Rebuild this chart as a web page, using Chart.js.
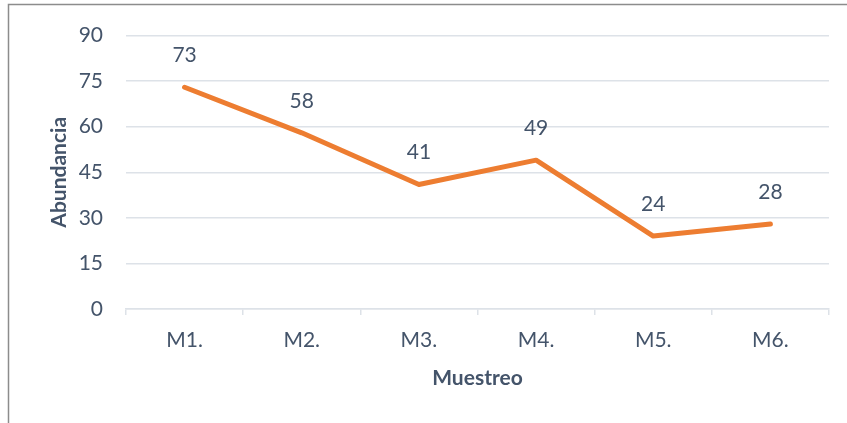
<!DOCTYPE html>
<html>
<head>
<meta charset="utf-8">
<script src="https://cdn.jsdelivr.net/npm/chart.js@4"></script>
<style>
  html, body { margin: 0; padding: 0; background: #fff; }
  #wrap { width: 847px; height: 423px; position: relative; }
</style>
</head>
<body>
<div id="wrap"><canvas id="myChart" width="847" height="423"></canvas></div>
<script>
// sampling points and abundance per point
const categories = ['M1.', 'M2.', 'M3.', 'M4.', 'M5.', 'M6.'];
const abundance = [73, 58, 41, 49, 24, 28];
const yTicks = [0, 15, 30, 45, 60, 75, 90];

const textColor = '#44546A';
const gridColor = '#dde2e8';
const fontFamily = 'Lato, "Open Sans", sans-serif';
const fontSize = 21;

// white background plus the frame on the left and top
const framePlugin = {
  id: 'frame',
  beforeDraw(chart) {
    const ctx = chart.ctx;
    ctx.save();
    ctx.fillStyle = '#fff';
    ctx.fillRect(0, 0, chart.width, chart.height);
    ctx.strokeStyle = '#8c8c8c';
    ctx.lineWidth = 1.5;
    ctx.beginPath();
    ctx.moveTo(8.5, chart.height);
    ctx.lineTo(8.5, 4.5);
    ctx.lineTo(chart.width, 4.5);
    ctx.stroke();
    ctx.restore();
  }
};

// value labels above each point
const valueLabels = {
  id: 'valueLabels',
  afterDatasetsDraw(chart) {
    const ctx = chart.ctx;
    const meta = chart.getDatasetMeta(0);
    ctx.save();
    ctx.fillStyle = textColor;
    ctx.font = fontSize + 'px ' + fontFamily;
    ctx.textAlign = 'center';
    ctx.textBaseline = 'middle';
    meta.data.forEach((pt, i) => {
      ctx.fillText(String(abundance[i]), pt.x, pt.y - 32);
    });
    ctx.restore();
  }
};

new Chart(document.getElementById('myChart'), {
  type: 'line',
  data: {
    labels: categories,
    datasets: [{
      data: abundance,
      borderColor: '#ED7D31',
      borderWidth: 5,
      borderCapStyle: 'round',
      borderJoinStyle: 'round',
      pointRadius: 0,
      tension: 0,
      fill: false
    }]
  },
  options: {
    responsive: false,
    animation: false,
    layout: { padding: { top: 31, right: 18, left: 0, bottom: 0 } },
    plugins: {
      legend: { display: false },
      tooltip: { enabled: false }
    },
    scales: {
      x: {
        offset: true,
        grid: {
          offset: true,
          drawOnChartArea: false,
          drawTicks: true,
          tickLength: 6,
          color: gridColor,
          lineWidth: 1.5
        },
        border: { display: true, color: gridColor, width: 1.5 },
        ticks: {
          color: textColor,
          padding: 13,
          font: { family: fontFamily, size: fontSize }
        },
        title: {
          display: true,
          text: 'Muestreo',
          color: textColor,
          font: { family: fontFamily, size: fontSize, weight: 'bold' },
          padding: { top: 0, bottom: 32 }
        },
        afterFit(scale) { scale.height = 114; }
      },
      y: {
        min: 0,
        max: 90,
        afterBuildTicks(scale) {
          scale.ticks = yTicks.map(v => ({ value: v }));
        },
        grid: {
          drawTicks: false,
          color: gridColor,
          lineWidth: 1.5
        },
        border: { display: false },
        ticks: {
          color: textColor,
          padding: 23,
          font: { family: fontFamily, size: fontSize }
        },
        title: {
          display: true,
          text: 'Abundancia',
          color: textColor,
          font: { family: fontFamily, size: fontSize, weight: 'bold' },
          padding: { top: 47, bottom: 0 }
        },
        afterFit(scale) { scale.width = 126; }
      }
    }
  },
  plugins: [framePlugin, valueLabels]
});
</script>
</body>
</html>
